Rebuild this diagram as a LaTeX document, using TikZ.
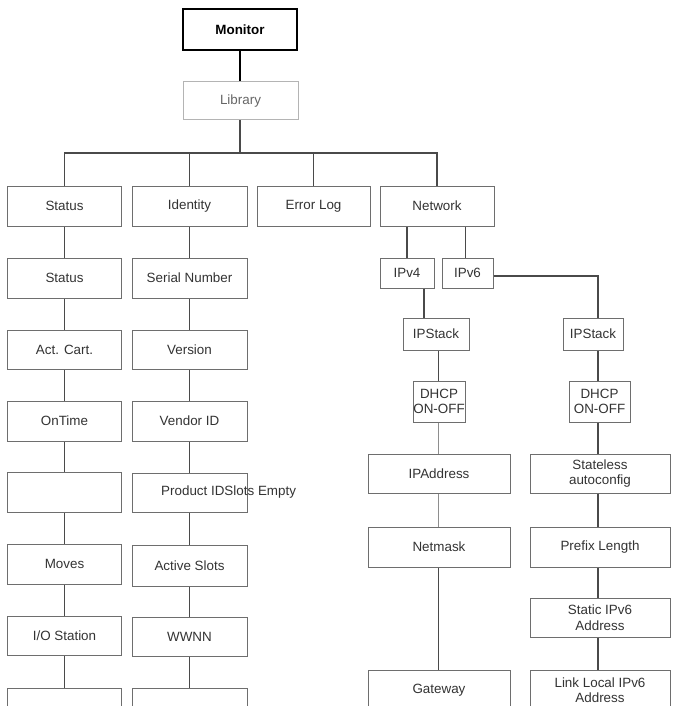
\documentclass[tikz,border=0pt]{standalone}
\usepackage{fontspec}
\setmainfont{Liberation Sans}
\definecolor{boxc}{HTML}{6E6E6E}
\definecolor{linec}{HTML}{4A4A4A}
\definecolor{lightc}{HTML}{B4B4B4}
\definecolor{midc}{HTML}{8E8E8E}
\definecolor{txtc}{HTML}{333333}
\tikzset{
  box/.style={draw=boxc, line width=1pt, fill=white, inner sep=0pt, align=center,
    text=txtc, font=\fontsize{13.4}{15.5}\selectfont},
  wh/.style 2 args={minimum width=#1pt, minimum height=#2pt},
  conn/.style={draw=linec, line width=1.4pt},
  lightconn/.style={draw=midc, line width=1.2pt},
}
\begin{document}
\begin{tikzpicture}[x=1pt,y=-1pt]
\path[use as bounding box] (0,0) rectangle (673,706);
\clip (0,0) rectangle (673,706);
\fill[white] (0,0) rectangle (673,706);

% top
\node[box, wh={114}{41}, draw=black, line width=1.6pt, text=black,
      font=\fontsize{13.4}{15.5}\selectfont\bfseries] (mon) at (240,29.5) {Monitor};
\node[box, wh={115}{38}, draw=lightc, text=black!60] (lib) at (240.5,101) {Library};

% level 1
\node[box, wh={114}{40}] (s0) at (64.5,206) {Status};
\node[box, wh={115}{40}] (i0) at (189.5,206) {Identity};
\node[box, wh={113}{40}] (err) at (313.5,206) {Error Log};
\node[box, wh={114}{40}] (net) at (437,206) {Network};

% status column
\node[box, wh={114}{40}] (s1) at (64.5,278) {Status};
\node[box, wh={114}{39}] (s2) at (64.5,349.5) {Act. Cart.};
\node[box, wh={114}{40}] (s3) at (64.5,421) {OnTime};
\node[box, wh={114}{40}] (s4) at (64.5,492) {};
\node[box, wh={114}{40}] (s5) at (64.5,564) {Moves};
\node[box, wh={114}{39}] (s6) at (64.5,635.5) {I/O Station};
\node[box, wh={114}{40}] (s7) at (64.5,708) {};

% identity column
\node[box, wh={115}{40}] (i1) at (189.5,278) {Serial Number};
\node[box, wh={115}{39}] (i2) at (189.5,349.5) {Version};
\node[box, wh={115}{40}] (i3) at (189.5,421) {Vendor ID};
\node[box, wh={115}{39}] (i4) at (189.5,492.5) {};
\node[box, wh={115}{41}] (i5) at (189.5,565.5) {Active Slots};
\node[box, wh={115}{39}] (i6) at (189.5,636.5) {WWNN};
\node[box, wh={115}{40}] (i7) at (189.5,708) {};
\node[anchor=west, inner sep=0pt, text=txtc, font=\fontsize{13.4}{15.5}\selectfont]
  (pid) at (161,492.5) {Product IDSlots Empty};

% network
\node[box, wh={54}{30}] (ipv4) at (407,273) {IPv4};
\node[box, wh={51}{30}] (ipv6) at (467.5,273) {IPv6};

\node[box, wh={66}{32}] (ipsA) at (436,334) {IPStack};
\node[box, wh={52}{41}] (dhcpA) at (439,401.5) {DHCP\\ON-OFF};
\node[box, wh={142}{39}] (addrA) at (439,473.5) {IPAddress};
\node[box, wh={142}{40}] (maskA) at (439,547) {Netmask};
\node[box, wh={142}{40}] (gwA) at (439,690) {Gateway};

\node[box, wh={60}{32}] (ipsB) at (593,334) {IPStack};
\node[box, wh={61}{41}] (dhcpB) at (599.5,401.5) {DHCP\\ON-OFF};
\node[box, wh={140}{39}] (slB) at (600,473.5) {Stateless\\autoconfig};
\node[box, wh={140}{40}] (preB) at (600,547) {Prefix Length};
\node[box, wh={140}{39}] (stB) at (600,617.5) {Static IPv6\\Address};
\node[box, wh={140}{40}] (llB) at (600,690) {Link Local IPv6\\Address};

% connectors
\coordinate (bus) at (240,153);
\coordinate (rA) at (438.5,0);
\coordinate (rB) at (598,0);
\draw[conn, draw=black] (mon.south) -- (mon.south |- lib.north);
\draw[conn] (mon.south |- lib.south) -- (bus);
\draw[conn] (s0.north) |- (bus);
\draw[conn] (i0.north) |- (bus);
\draw[conn] (err.north) |- (bus);
\draw[conn] (net.north) |- (bus);

\foreach \u/\l in {s0/s1,s1/s2,s2/s3,s3/s4,s4/s5,s5/s6,s6/s7,
                   i0/i1,i1/i2,i2/i3,i3/i4,i4/i5,i5/i6,i6/i7}
  \draw[conn] (\l.north) -- (\l.north |- \u.south);

\draw[conn] (ipv4.north) -- (ipv4.north |- net.south);
\draw[conn] ([xshift=-2pt]ipv6.north) -- ([xshift=-2pt]ipv6.north |- net.south);
\draw[conn] ([xshift=17pt]ipv4.south) -- ([xshift=17pt]ipv4.south |- ipsA.north);
\draw[conn] (rA |- ipsA.south) -- (rA |- dhcpA.north);
\draw[lightconn] (rA |- dhcpA.south) -- (rA |- addrA.north);
\draw[lightconn] (rA |- addrA.south) -- (rA |- maskA.north);
\draw[conn] (rA |- maskA.south) -- (rA |- gwA.north);

\draw[conn] ([yshift=-3pt]ipv6.east) -| (rB |- ipsB.north);
\draw[conn] (rB |- ipsB.south) -- (rB |- dhcpB.north);
\draw[conn] (rB |- dhcpB.south) -- (rB |- slB.north);
\draw[conn] (rB |- slB.south) -- (rB |- preB.north);
\draw[conn] (rB |- preB.south) -- (rB |- stB.north);
\draw[conn] (rB |- stB.south) -- (rB |- llB.north);
\end{tikzpicture}
\end{document}
